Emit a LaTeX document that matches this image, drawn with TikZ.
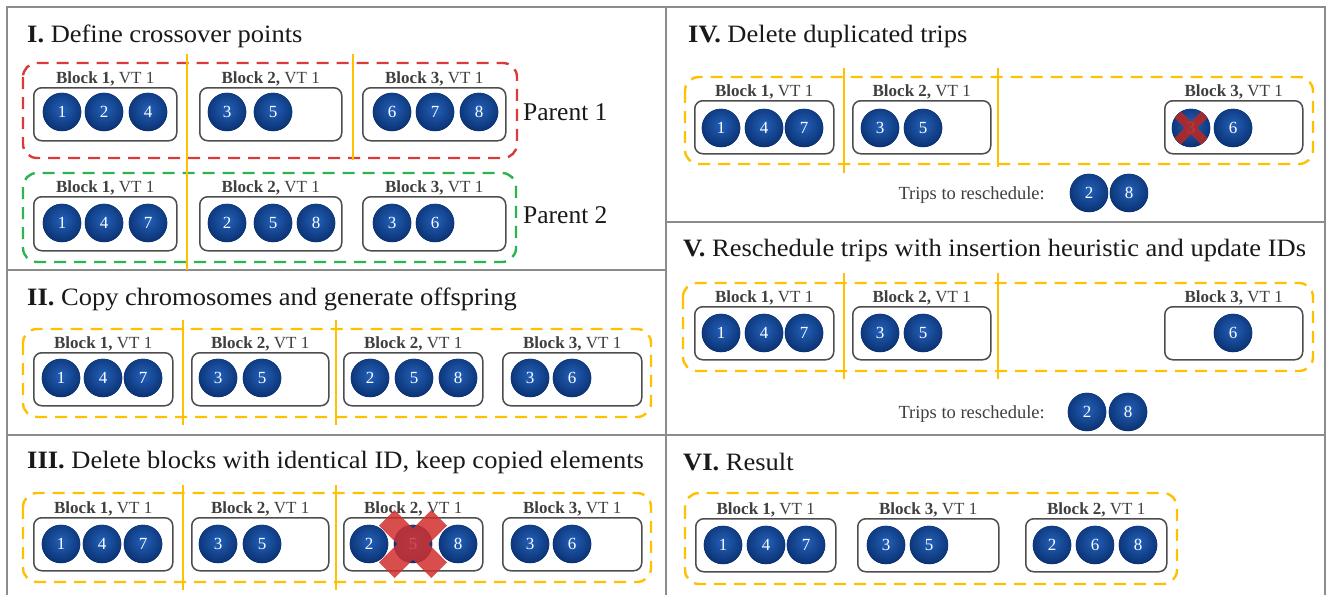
\documentclass[tikz,border=0pt]{standalone}
\usepackage{fontspec}
\setmainfont{Liberation Serif}
\newfontfamily\wideserif[FakeStretch=1.06]{Liberation Serif}
\usetikzlibrary{calc}

\definecolor{gridgray}{HTML}{8C8C8C}
\definecolor{boxgray}{HTML}{4D4D4D}
\definecolor{labelgray}{HTML}{3F3F3F}
\definecolor{gold}{HTML}{FFC000}
\definecolor{parentred}{HTML}{D93A3A}
\definecolor{parentgreen}{HTML}{2DB34F}
\definecolor{tripin}{HTML}{2360B8}
\definecolor{tripout}{HTML}{0A3172}
\definecolor{xred}{HTML}{D0302E}

\newcommand\titlefont{\wideserif\fontsize{25}{29}\selectfont}
\newcommand\parentfont{\fontsize{25.5}{29}\selectfont}
\newcommand\lblfont{\fontsize{17}{19}\selectfont}
\newcommand\notefont{\fontsize{18.5}{21}\selectfont}
\newcommand\tripfont{\fontsize{17}{19}\selectfont}

% one block: name, x1, y1, x2, y2, block number
\newcommand\drawblock[6]{%
  \node[blockbox, anchor=north west, minimum width={#4-#2}, minimum height={#5-#3}] (#1) at (#2,#3) {};
  \node[blocklabel, anchor=base] (#1-l) at ($(#1.north)+(0,-4)$) {\textbf{Block #6,} VT 1};
}

\begin{document}
\begin{tikzpicture}[x=1pt, y=-1pt,
  blockbox/.style={draw=boxgray, line width=1.5pt, rounded corners=8pt, inner sep=0pt},
  blocklabel/.style={font=\lblfont, text=labelgray, inner sep=0pt},
  trip/.style={circle, minimum size=38.5pt, inner sep=0pt, fill=tripout,
    path picture={\shade[inner color=tripin, outer color=tripout]
      ($(path picture bounding box.center)+(0,-3)$) circle (22pt);},
    text=white, font=\tripfont},
  steptitle/.style={font=\titlefont, text=black!90, anchor=base west, inner sep=0pt},
  parentlbl/.style={font=\parentfont, text=black!90, anchor=base west, inner sep=0pt},
  tripsnote/.style={font=\notefont, text=labelgray, anchor=base east, inner sep=0pt},
  dashbox/.style={line width=2.4pt, dash pattern=on 12pt off 8pt, rounded corners=14pt},
  cutline/.style={draw=gold, line width=2pt},
  gridline/.style={draw=gridgray, line width=1.6pt}]

\useasboundingbox (0,0) rectangle (1328,595);
\fill[white] (0,0) rectangle (1328,595);

% table frame
\draw[gridline] (7,595) -- (7,7) -- (1325,7) -- (1325,595);
\draw[gridline] (666,7) -- (666,595);
\draw[gridline] (7,270) -- (666,270);
\draw[gridline] (7,435) -- (666,435);
\draw[gridline] (666,222) -- (1325,222);
\draw[gridline] (666,435) -- (1325,435);

% ---------- I. crossover points ----------
\node[steptitle] (t1) at (27,42) {\textbf{I.} Define crossover points};
\draw[dashbox, draw=parentred] (23,63) rectangle (517,158);
\draw[dashbox, draw=parentgreen] (23,173) rectangle (516,262);

\drawblock{pa1}{33}{87}{176}{140}{1}
\drawblock{pa2}{199}{87}{341}{140}{2}
\drawblock{pa3}{362}{87}{505}{140}{3}
\node[trip] (pa1a) at (62,112) {1};
\node[trip] (pa1b) at (104,112) {2};
\node[trip] (pa1c) at (148,112) {4};
\node[trip] (pa2a) at (227,112) {3};
\node[trip] (pa2b) at (273,112) {5};
\node[trip] (pa3a) at (392,112) {6};
\node[trip] (pa3b) at (435,112) {7};
\node[trip] (pa3c) at (479,112) {8};
\node[parentlbl] (par1) at (523,120) {Parent 1};

\drawblock{pb1}{33}{196}{176}{250}{1}
\drawblock{pb2}{199}{196}{341}{250}{2}
\drawblock{pb3}{362}{196}{505}{250}{3}
\node[trip] (pb1a) at (62,223) {1};
\node[trip] (pb1b) at (104,223) {4};
\node[trip] (pb1c) at (148,223) {7};
\node[trip] (pb2a) at (227,223) {2};
\node[trip] (pb2b) at (273,223) {5};
\node[trip] (pb2c) at (316,223) {8};
\node[trip] (pb3a) at (392,223) {3};
\node[trip] (pb3b) at (435,223) {6};
\node[parentlbl] (par2) at (523,223) {Parent 2};

\draw[cutline] (187,54) -- (187,270);
\draw[cutline] (353,54) -- (353,160);

% ---------- II. offspring ----------
\node[steptitle] (t2) at (27,305) {\textbf{II.} Copy chromosomes and generate offspring};
\draw[dashbox, draw=gold] (23,329) rectangle (651,417);
\drawblock{oa1}{33}{352}{172}{405}{1}
\drawblock{oa2}{191}{352}{328}{405}{2}
\drawblock{oa3}{343}{352}{482}{405}{2}
\drawblock{oa4}{502}{352}{641}{405}{3}
\node[trip] (oa1a) at (61,378) {1};
\node[trip] (oa1b) at (103,378) {4};
\node[trip] (oa1c) at (143,378) {7};
\node[trip] (oa2a) at (218,378) {3};
\node[trip] (oa2b) at (262,378) {5};
\node[trip] (oa3a) at (370,378) {2};
\node[trip] (oa3b) at (414,378) {5};
\node[trip] (oa3c) at (458,378) {8};
\node[trip] (oa4a) at (530,378) {3};
\node[trip] (oa4b) at (572,378) {6};
\draw[cutline] (183,320) -- (183,425);
\draw[cutline] (336,320) -- (336,425);

% ---------- III. delete blocks ----------
\node[steptitle] (t3) at (27,468) {\textbf{III.} Delete blocks with identical ID, keep copied elements};
\draw[dashbox, draw=gold] (23,493) rectangle (651,582);
\drawblock{da1}{33}{517}{172}{570}{1}
\drawblock{da2}{191}{517}{328}{570}{2}
\drawblock{da3}{343}{517}{482}{570}{2}
\drawblock{da4}{502}{517}{641}{570}{3}
\node[trip] (da1a) at (61,544) {1};
\node[trip] (da1b) at (102,544) {4};
\node[trip] (da1c) at (143,544) {7};
\node[trip] (da2a) at (218,544) {3};
\node[trip] (da2b) at (262,544) {5};
\node[trip] (da3a) at (369,544) {2};
\node[trip] (da3b) at (413,544) {5};
\node[trip] (da3c) at (458,544) {8};
\node[trip] (da4a) at (530,544) {3};
\node[trip] (da4b) at (572,544) {6};
\begin{scope}[shift={(da3b.center)}, rotate=45]
  \fill[xred, opacity=0.85] (-37,-11) rectangle (37,11) (-11,-37) rectangle (11,37);
\end{scope}
\draw[cutline] (183,485) -- (183,590);
\draw[cutline] (336,485) -- (336,590);

% ---------- IV. duplicated trips ----------
\node[steptitle] (t4) at (688,42) {\textbf{IV.} Delete duplicated trips};
\draw[dashbox, draw=gold] (685,77) rectangle (1313,164);
\drawblock{ea1}{694}{100}{833}{153}{1}
\drawblock{ea2}{852}{100}{990}{153}{2}
\drawblock{ea3}{1164}{100}{1302}{153}{3}
\node[trip] (ea1a) at (721,128) {1};
\node[trip] (ea1b) at (764,128) {4};
\node[trip] (ea1c) at (804,128) {7};
\node[trip] (ea2a) at (880,128) {3};
\node[trip] (ea2b) at (923,128) {5};
\node[trip] (ea3a) at (1191,128) {3};
\node[trip] (ea3b) at (1233,128) {6};
\begin{scope}
  \clip (ea3a.center) circle (19);
  \draw[xred!85!black, line width=9pt, opacity=0.9]
    ($(ea3a.center)+(-15,-15)$) -- ($(ea3a.center)+(15,15)$)
    ($(ea3a.center)+(-15,15)$) -- ($(ea3a.center)+(15,-15)$);
\end{scope}
\draw[cutline] (844,68) -- (844,173);
\draw[cutline] (998,68) -- (998,167);
\node[tripsnote] (n4) at (1045,199) {Trips to reschedule:};
\node[trip] (r4a) at (1089,193) {2};
\node[trip] (r4b) at (1129,193) {8};

% ---------- V. reschedule ----------
\node[steptitle] (t5) at (683,256) {\textbf{V.} Reschedule trips with insertion heuristic and update IDs};
\draw[dashbox, draw=gold] (683,283) rectangle (1313,371);
\drawblock{fa1}{694}{306}{833}{359}{1}
\drawblock{fa2}{852}{306}{990}{359}{2}
\drawblock{fa3}{1164}{306}{1302}{359}{3}
\node[trip] (fa1a) at (721,333) {1};
\node[trip] (fa1b) at (764,333) {4};
\node[trip] (fa1c) at (804,333) {7};
\node[trip] (fa2a) at (880,333) {3};
\node[trip] (fa2b) at (923,333) {5};
\node[trip] (fa3a) at (1233,333) {6};
\draw[cutline] (844,273) -- (844,379);
\draw[cutline] (998,273) -- (998,379);
\node[tripsnote] (n5) at (1045,418) {Trips to reschedule:};
\node[trip] (r5a) at (1087,412) {2};
\node[trip] (r5b) at (1128,412) {8};

% ---------- VI. result ----------
\node[steptitle] (t6) at (683,470) {\textbf{VI.} Result};
\draw[dashbox, draw=gold] (685,493) rectangle (1177,584);
\drawblock{ga1}{695}{518}{835}{571}{1}
\drawblock{ga2}{857}{518}{998}{571}{3}
\drawblock{ga3}{1025}{518}{1166}{571}{2}
\node[trip] (ga1a) at (723,545) {1};
\node[trip] (ga1b) at (766,545) {4};
\node[trip] (ga1c) at (806,545) {7};
\node[trip] (ga2a) at (886,545) {3};
\node[trip] (ga2b) at (929,545) {5};
\node[trip] (ga3a) at (1052,545) {2};
\node[trip] (ga3b) at (1095,545) {6};
\node[trip] (ga3c) at (1138,545) {8};

\end{tikzpicture}
\end{document}
